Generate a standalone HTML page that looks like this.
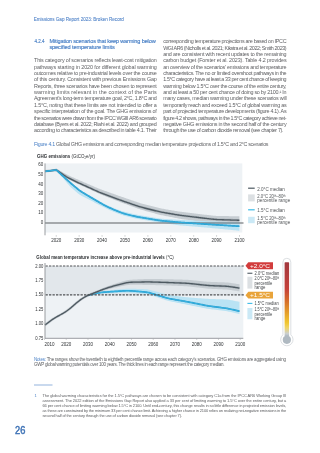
<!DOCTYPE html><html><head><meta charset="utf-8"><style>
html,body{margin:0;padding:0;background:#fff;}
body{width:320px;height:453px;overflow:hidden;position:relative;}
.ch{position:absolute;left:0;top:0;font-family:"Liberation Sans",sans-serif;will-change:transform;}
.hdr{font-size:4.6px;fill:#5a8acb;stroke:#5a8acb;stroke-width:0.1px;}
.h{font-size:5.6px;fill:#4a80c6;stroke:#4a80c6;stroke-width:0.15px;}
.b{font-size:5.4px;fill:#5e5f62;}
.cap{font-size:5.3px;fill:#646568;}
.note{font-size:4.5px;fill:#5f6063;}
.fn{font-size:4.0px;fill:#5f6063;}
.pn{font-size:10.3px;fill:#3f73b6;stroke:#3f73b6;stroke-width:0.45px;}
.bl{fill:#4a80c6;}
.tk{font-size:4.5px;fill:#2f3235;}
.ttl{font-size:4.6px;fill:#2d3033;}
.lg{font-size:4.5px;fill:#55585b;}
.lg2{font-size:4.5px;fill:#45484b;}
.sup{font-size:3px;}
.bd{font-weight:bold;}
.tag{font-size:5.0px;fill:#fff;}
</style></head><body>
<svg class="ch" width="320" height="453" viewBox="0 0 320 453"><rect x="45" y="163.4" width="197.3" height="69.1" fill="#eef2f5"/><path d="M45.00,171.30 L56.40,168.80 L57.40,169.33 L58.40,169.86 L59.40,170.40 L60.40,170.94 L61.40,171.49 L62.40,172.06 L63.40,172.63 L64.40,173.20 L65.40,173.77 L66.40,174.31 L67.40,174.84 L68.40,175.34 L69.40,175.82 L70.40,176.28 L71.40,176.73 L72.40,177.17 L73.40,177.62 L74.40,178.05 L75.40,178.49 L76.40,178.93 L77.40,179.37 L78.40,179.80 L79.40,180.24 L80.40,180.67 L81.40,181.11 L82.40,181.54 L83.40,181.97 L84.40,182.41 L85.40,182.84 L86.40,183.27 L87.40,183.71 L88.40,184.14 L89.40,184.57 L90.40,185.00 L91.40,185.43 L92.40,185.86 L93.40,186.29 L94.40,186.72 L95.40,187.14 L96.40,187.56 L97.40,187.98 L98.40,188.39 L99.40,188.79 L100.40,189.19 L101.40,189.57 L102.40,189.94 L103.40,190.30 L104.40,190.66 L105.40,191.02 L106.40,191.37 L107.40,191.73 L108.40,192.08 L109.40,192.44 L110.40,192.79 L111.40,193.15 L112.40,193.50 L113.40,193.86 L114.40,194.21 L115.40,194.57 L116.40,194.92 L117.40,195.28 L118.40,195.63 L119.40,195.98 L120.40,196.33 L121.40,196.68 L122.40,197.03 L123.40,197.37 L124.40,197.72 L125.40,198.06 L126.40,198.41 L127.40,198.75 L128.40,199.10 L129.40,199.44 L130.40,199.79 L131.40,200.13 L132.40,200.48 L133.40,200.82 L134.40,201.17 L135.40,201.51 L136.40,201.85 L137.40,202.19 L138.40,202.51 L139.40,202.83 L140.40,203.14 L141.40,203.43 L142.40,203.71 L143.40,203.98 L144.40,204.24 L145.40,204.50 L146.40,204.76 L147.40,205.02 L148.40,205.28 L149.40,205.54 L150.40,205.80 L151.40,206.06 L152.40,206.32 L153.40,206.58 L154.40,206.84 L155.40,207.10 L156.40,207.36 L157.40,207.61 L158.40,207.85 L159.40,208.08 L160.40,208.30 L161.40,208.50 L162.40,208.69 L163.40,208.87 L164.40,209.04 L165.40,209.22 L166.40,209.39 L167.40,209.56 L168.40,209.73 L169.40,209.90 L170.40,210.07 L171.40,210.24 L172.40,210.41 L173.40,210.58 L174.40,210.75 L175.40,210.92 L176.40,211.08 L177.40,211.25 L178.40,211.41 L179.40,211.56 L180.40,211.71 L181.40,211.85 L182.40,211.98 L183.40,212.10 L184.40,212.23 L185.40,212.35 L186.40,212.47 L187.40,212.59 L188.40,212.71 L189.40,212.83 L190.40,212.95 L191.40,213.07 L192.40,213.19 L193.40,213.31 L194.40,213.43 L195.40,213.55 L196.40,213.67 L197.40,213.79 L198.40,213.91 L199.40,214.03 L200.40,214.15 L201.40,214.27 L202.40,214.39 L203.40,214.51 L204.40,214.63 L205.40,214.75 L206.40,214.87 L207.40,214.99 L208.40,215.11 L209.40,215.23 L210.40,215.35 L211.40,215.46 L212.40,215.57 L213.40,215.67 L214.40,215.75 L215.40,215.82 L216.40,215.88 L217.40,215.92 L218.40,215.95 L219.40,215.97 L220.40,215.99 L221.40,216.00 L222.40,216.02 L223.40,216.04 L224.40,216.05 L225.40,216.07 L226.40,216.09 L227.40,216.10 L228.40,216.12 L229.40,216.14 L230.40,216.15 L231.40,216.17 L232.40,216.18 L233.40,216.20 L234.40,216.22 L235.40,216.23 L236.40,216.25 L237.40,216.27 L238.40,216.28 L239.40,216.30 L239.40,224.80 L238.40,224.76 L237.40,224.73 L236.40,224.70 L235.40,224.67 L234.40,224.63 L233.40,224.60 L232.40,224.57 L231.40,224.54 L230.40,224.50 L229.40,224.47 L228.40,224.44 L227.40,224.40 L226.40,224.37 L225.40,224.34 L224.40,224.31 L223.40,224.27 L222.40,224.24 L221.40,224.21 L220.40,224.18 L219.40,224.14 L218.40,224.10 L217.40,224.05 L216.40,223.99 L215.40,223.92 L214.40,223.82 L213.40,223.71 L212.40,223.58 L211.40,223.44 L210.40,223.29 L209.40,223.14 L208.40,222.99 L207.40,222.83 L206.40,222.68 L205.40,222.53 L204.40,222.37 L203.40,222.22 L202.40,222.07 L201.40,221.92 L200.40,221.77 L199.40,221.62 L198.40,221.47 L197.40,221.32 L196.40,221.18 L195.40,221.03 L194.40,220.89 L193.40,220.74 L192.40,220.60 L191.40,220.45 L190.40,220.31 L189.40,220.16 L188.40,220.02 L187.40,219.87 L186.40,219.73 L185.40,219.58 L184.40,219.44 L183.40,219.29 L182.40,219.14 L181.40,218.98 L180.40,218.82 L179.40,218.65 L178.40,218.47 L177.40,218.28 L176.40,218.09 L175.40,217.90 L174.40,217.71 L173.40,217.51 L172.40,217.32 L171.40,217.12 L170.40,216.93 L169.40,216.73 L168.40,216.54 L167.40,216.34 L166.40,216.15 L165.40,215.95 L164.40,215.76 L163.40,215.56 L162.40,215.35 L161.40,215.14 L160.40,214.91 L159.40,214.68 L158.40,214.43 L157.40,214.17 L156.40,213.90 L155.40,213.63 L154.40,213.36 L153.40,213.08 L152.40,212.81 L151.40,212.54 L150.40,212.26 L149.40,211.98 L148.40,211.71 L147.40,211.43 L146.40,211.16 L145.40,210.88 L144.40,210.61 L143.40,210.33 L142.40,210.04 L141.40,209.74 L140.40,209.43 L139.40,209.11 L138.40,208.77 L137.40,208.42 L136.40,208.06 L135.40,207.70 L134.40,207.33 L133.40,206.96 L132.40,206.59 L131.40,206.22 L130.40,205.85 L129.40,205.48 L128.40,205.11 L127.40,204.74 L126.40,204.37 L125.40,204.00 L124.40,203.63 L123.40,203.26 L122.40,202.88 L121.40,202.51 L120.40,202.13 L119.40,201.75 L118.40,201.36 L117.40,200.97 L116.40,200.58 L115.40,200.18 L114.40,199.79 L113.40,199.39 L112.40,199.00 L111.40,198.60 L110.40,198.21 L109.40,197.81 L108.40,197.42 L107.40,197.02 L106.40,196.63 L105.40,196.23 L104.40,195.83 L103.40,195.43 L102.40,195.03 L101.40,194.61 L100.40,194.18 L99.40,193.74 L98.40,193.28 L97.40,192.82 L96.40,192.34 L95.40,191.86 L94.40,191.38 L93.40,190.90 L92.40,190.42 L91.40,189.95 L90.40,189.49 L89.40,189.03 L88.40,188.57 L87.40,188.12 L86.40,187.66 L85.40,187.21 L84.40,186.75 L83.40,186.30 L82.40,185.85 L81.40,185.39 L80.40,184.94 L79.40,184.48 L78.40,184.01 L77.40,183.54 L76.40,183.05 L75.40,182.56 L74.40,182.06 L73.40,181.56 L72.40,181.05 L71.40,180.54 L70.40,180.01 L69.40,179.48 L68.40,178.93 L67.40,178.34 L66.40,177.73 L65.40,177.09 L64.40,176.43 L63.40,175.76 L62.40,175.09 L61.40,174.42 L60.40,173.77 L59.40,173.12 L58.40,172.47 L57.40,171.84 L56.40,171.20 L45.00,171.30 Z" fill="#c6cdd2"/><path d="M45.00,171.30 L56.40,168.80 L57.40,169.73 L58.40,170.66 L59.40,171.59 L60.40,172.51 L61.40,173.44 L62.40,174.37 L63.40,175.29 L64.40,176.22 L65.40,177.14 L66.40,178.06 L67.40,178.98 L68.40,179.88 L69.40,180.78 L70.40,181.66 L71.40,182.52 L72.40,183.37 L73.40,184.21 L74.40,185.05 L75.40,185.87 L76.40,186.69 L77.40,187.49 L78.40,188.27 L79.40,189.02 L80.40,189.73 L81.40,190.39 L82.40,191.02 L83.40,191.63 L84.40,192.22 L85.40,192.80 L86.40,193.38 L87.40,193.96 L88.40,194.53 L89.40,195.11 L90.40,195.68 L91.40,196.26 L92.40,196.84 L93.40,197.42 L94.40,198.00 L95.40,198.58 L96.40,199.17 L97.40,199.75 L98.40,200.33 L99.40,200.91 L100.40,201.49 L101.40,202.06 L102.40,202.62 L103.40,203.16 L104.40,203.69 L105.40,204.20 L106.40,204.69 L107.40,205.16 L108.40,205.63 L109.40,206.10 L110.40,206.55 L111.40,207.00 L112.40,207.45 L113.40,207.87 L114.40,208.29 L115.40,208.69 L116.40,209.09 L117.40,209.47 L118.40,209.85 L119.40,210.22 L120.40,210.59 L121.40,210.94 L122.40,211.27 L123.40,211.57 L124.40,211.86 L125.40,212.12 L126.40,212.37 L127.40,212.61 L128.40,212.84 L129.40,213.08 L130.40,213.31 L131.40,213.54 L132.40,213.76 L133.40,213.99 L134.40,214.21 L135.40,214.42 L136.40,214.62 L137.40,214.80 L138.40,214.99 L139.40,215.16 L140.40,215.33 L141.40,215.50 L142.40,215.67 L143.40,215.83 L144.40,216.00 L145.40,216.17 L146.40,216.33 L147.40,216.50 L148.40,216.67 L149.40,216.83 L150.40,217.00 L151.40,217.17 L152.40,217.33 L153.40,217.50 L154.40,217.67 L155.40,217.83 L156.40,217.99 L157.40,218.15 L158.40,218.29 L159.40,218.43 L160.40,218.54 L161.40,218.65 L162.40,218.73 L163.40,218.81 L164.40,218.88 L165.40,218.95 L166.40,219.02 L167.40,219.08 L168.40,219.15 L169.40,219.21 L170.40,219.28 L171.40,219.34 L172.40,219.41 L173.40,219.47 L174.40,219.54 L175.40,219.60 L176.40,219.66 L177.40,219.73 L178.40,219.79 L179.40,219.85 L180.40,219.91 L181.40,219.96 L182.40,220.02 L183.40,220.07 L184.40,220.12 L185.40,220.17 L186.40,220.22 L187.40,220.27 L188.40,220.32 L189.40,220.37 L190.40,220.42 L191.40,220.47 L192.40,220.52 L193.40,220.57 L194.40,220.62 L195.40,220.67 L196.40,220.72 L197.40,220.77 L198.40,220.82 L199.40,220.87 L200.40,220.92 L201.40,220.97 L202.40,221.02 L203.40,221.07 L204.40,221.12 L205.40,221.17 L206.40,221.22 L207.40,221.27 L208.40,221.31 L209.40,221.35 L210.40,221.39 L211.40,221.43 L212.40,221.46 L213.40,221.50 L214.40,221.53 L215.40,221.56 L216.40,221.58 L217.40,221.61 L218.40,221.64 L219.40,221.67 L220.40,221.70 L221.40,221.73 L222.40,221.76 L223.40,221.79 L224.40,221.81 L225.40,221.84 L226.40,221.87 L227.40,221.90 L228.40,221.93 L229.40,221.96 L230.40,221.99 L231.40,222.02 L232.40,222.05 L233.40,222.07 L234.40,222.10 L235.40,222.13 L236.40,222.16 L237.40,222.19 L238.40,222.22 L239.40,222.25 L239.40,230.74 L238.40,230.64 L237.40,230.55 L236.40,230.45 L235.40,230.35 L234.40,230.26 L233.40,230.16 L232.40,230.06 L231.40,229.97 L230.40,229.87 L229.40,229.77 L228.40,229.68 L227.40,229.58 L226.40,229.48 L225.40,229.39 L224.40,229.29 L223.40,229.19 L222.40,229.10 L221.40,229.00 L220.40,228.90 L219.40,228.81 L218.40,228.71 L217.40,228.61 L216.40,228.52 L215.40,228.42 L214.40,228.33 L213.40,228.23 L212.40,228.13 L211.40,228.04 L210.40,227.95 L209.40,227.86 L208.40,227.77 L207.40,227.69 L206.40,227.60 L205.40,227.52 L204.40,227.43 L203.40,227.35 L202.40,227.27 L201.40,227.18 L200.40,227.10 L199.40,227.02 L198.40,226.93 L197.40,226.85 L196.40,226.77 L195.40,226.68 L194.40,226.60 L193.40,226.52 L192.40,226.43 L191.40,226.35 L190.40,226.27 L189.40,226.18 L188.40,226.10 L187.40,226.02 L186.40,225.93 L185.40,225.85 L184.40,225.76 L183.40,225.68 L182.40,225.59 L181.40,225.49 L180.40,225.39 L179.40,225.28 L178.40,225.15 L177.40,225.03 L176.40,224.89 L175.40,224.75 L174.40,224.62 L173.40,224.48 L172.40,224.34 L171.40,224.20 L170.40,224.06 L169.40,223.92 L168.40,223.78 L167.40,223.64 L166.40,223.50 L165.40,223.36 L164.40,223.22 L163.40,223.07 L162.40,222.93 L161.40,222.78 L160.40,222.63 L159.40,222.48 L158.40,222.32 L157.40,222.16 L156.40,222.00 L155.40,221.83 L154.40,221.67 L153.40,221.50 L152.40,221.33 L151.40,221.17 L150.40,221.00 L149.40,220.83 L148.40,220.67 L147.40,220.50 L146.40,220.33 L145.40,220.17 L144.40,220.00 L143.40,219.83 L142.40,219.67 L141.40,219.50 L140.40,219.33 L139.40,219.16 L138.40,218.98 L137.40,218.80 L136.40,218.60 L135.40,218.40 L134.40,218.18 L133.40,217.95 L132.40,217.71 L131.40,217.47 L130.40,217.22 L129.40,216.97 L128.40,216.73 L127.40,216.48 L126.40,216.22 L125.40,215.96 L124.40,215.69 L123.40,215.39 L122.40,215.08 L121.40,214.74 L120.40,214.39 L119.40,214.02 L118.40,213.65 L117.40,213.27 L116.40,212.89 L115.40,212.50 L114.40,212.10 L113.40,211.69 L112.40,211.26 L111.40,210.83 L110.40,210.39 L109.40,209.94 L108.40,209.49 L107.40,209.03 L106.40,208.57 L105.40,208.10 L104.40,207.62 L103.40,207.12 L102.40,206.62 L101.40,206.10 L100.40,205.57 L99.40,205.04 L98.40,204.51 L97.40,203.98 L96.40,203.45 L95.40,202.92 L94.40,202.39 L93.40,201.87 L92.40,201.35 L91.40,200.83 L90.40,200.33 L89.40,199.83 L88.40,199.33 L87.40,198.84 L86.40,198.35 L85.40,197.85 L84.40,197.35 L83.40,196.84 L82.40,196.30 L81.40,195.72 L80.40,195.10 L79.40,194.42 L78.40,193.68 L77.40,192.89 L76.40,192.07 L75.40,191.23 L74.40,190.37 L73.40,189.49 L72.40,188.59 L71.40,187.65 L70.40,186.67 L69.40,185.64 L68.40,184.55 L67.40,183.42 L66.40,182.26 L65.40,181.09 L64.40,179.91 L63.40,178.75 L62.40,177.61 L61.40,176.50 L60.40,175.41 L59.40,174.34 L58.40,173.28 L57.40,172.24 L56.40,171.20 L45.00,171.30 Z" fill="#b9e3f4"/><line x1="45" y1="223" x2="243.5" y2="223" stroke="#5d6064" stroke-width="1.2"/><path d="M45.00,171.30 L56.40,170.00 L57.40,170.67 L58.40,171.34 L59.40,172.02 L60.40,172.69 L61.40,173.38 L62.40,174.06 L63.40,174.74 L64.40,175.42 L65.40,176.08 L66.40,176.72 L67.40,177.32 L68.40,177.89 L69.40,178.43 L70.40,178.94 L71.40,179.45 L72.40,179.94 L73.40,180.43 L74.40,180.92 L75.40,181.40 L76.40,181.87 L77.40,182.34 L78.40,182.81 L79.40,183.26 L80.40,183.71 L81.40,184.16 L82.40,184.61 L83.40,185.06 L84.40,185.51 L85.40,185.95 L86.40,186.40 L87.40,186.85 L88.40,187.29 L89.40,187.74 L90.40,188.19 L91.40,188.64 L92.40,189.10 L93.40,189.55 L94.40,190.01 L95.40,190.47 L96.40,190.93 L97.40,191.38 L98.40,191.82 L99.40,192.26 L100.40,192.67 L101.40,193.08 L102.40,193.47 L103.40,193.85 L104.40,194.22 L105.40,194.60 L106.40,194.97 L107.40,195.34 L108.40,195.71 L109.40,196.08 L110.40,196.45 L111.40,196.82 L112.40,197.19 L113.40,197.56 L114.40,197.93 L115.40,198.30 L116.40,198.67 L117.40,199.03 L118.40,199.40 L119.40,199.76 L120.40,200.12 L121.40,200.47 L122.40,200.82 L123.40,201.17 L124.40,201.52 L125.40,201.86 L126.40,202.21 L127.40,202.55 L128.40,202.90 L129.40,203.24 L130.40,203.59 L131.40,203.93 L132.40,204.28 L133.40,204.62 L134.40,204.97 L135.40,205.31 L136.40,205.65 L137.40,205.99 L138.40,206.31 L139.40,206.62 L140.40,206.92 L141.40,207.21 L142.40,207.48 L143.40,207.74 L144.40,208.00 L145.40,208.25 L146.40,208.50 L147.40,208.75 L148.40,209.00 L149.40,209.25 L150.40,209.50 L151.40,209.75 L152.40,210.00 L153.40,210.25 L154.40,210.50 L155.40,210.75 L156.40,210.99 L157.40,211.23 L158.40,211.47 L159.40,211.69 L160.40,211.90 L161.40,212.10 L162.40,212.29 L163.40,212.47 L164.40,212.65 L165.40,212.82 L166.40,212.99 L167.40,213.16 L168.40,213.33 L169.40,213.50 L170.40,213.67 L171.40,213.84 L172.40,214.01 L173.40,214.18 L174.40,214.35 L175.40,214.52 L176.40,214.68 L177.40,214.85 L178.40,215.01 L179.40,215.16 L180.40,215.31 L181.40,215.45 L182.40,215.58 L183.40,215.70 L184.40,215.83 L185.40,215.95 L186.40,216.07 L187.40,216.19 L188.40,216.31 L189.40,216.43 L190.40,216.55 L191.40,216.67 L192.40,216.79 L193.40,216.91 L194.40,217.03 L195.40,217.15 L196.40,217.27 L197.40,217.39 L198.40,217.51 L199.40,217.63 L200.40,217.75 L201.40,217.87 L202.40,217.99 L203.40,218.11 L204.40,218.23 L205.40,218.35 L206.40,218.47 L207.40,218.59 L208.40,218.71 L209.40,218.83 L210.40,218.95 L211.40,219.06 L212.40,219.17 L213.40,219.27 L214.40,219.37 L215.40,219.44 L216.40,219.51 L217.40,219.56 L218.40,219.60 L219.40,219.64 L220.40,219.68 L221.40,219.71 L222.40,219.74 L223.40,219.77 L224.40,219.81 L225.40,219.84 L226.40,219.87 L227.40,219.90 L228.40,219.94 L229.40,219.97 L230.40,220.00 L231.40,220.04 L232.40,220.07 L233.40,220.10 L234.40,220.13 L235.40,220.17 L236.40,220.20 L237.40,220.23 L238.40,220.26 L239.40,220.30" fill="none" stroke="#8d989f" stroke-opacity="0.45" stroke-width="2.4" stroke-linejoin="round"/><path d="M45.00,171.30 L56.40,170.00 L57.40,170.67 L58.40,171.34 L59.40,172.02 L60.40,172.69 L61.40,173.38 L62.40,174.06 L63.40,174.74 L64.40,175.42 L65.40,176.08 L66.40,176.72 L67.40,177.32 L68.40,177.89 L69.40,178.43 L70.40,178.94 L71.40,179.45 L72.40,179.94 L73.40,180.43 L74.40,180.92 L75.40,181.40 L76.40,181.87 L77.40,182.34 L78.40,182.81 L79.40,183.26 L80.40,183.71 L81.40,184.16 L82.40,184.61 L83.40,185.06 L84.40,185.51 L85.40,185.95 L86.40,186.40 L87.40,186.85 L88.40,187.29 L89.40,187.74 L90.40,188.19 L91.40,188.64 L92.40,189.10 L93.40,189.55 L94.40,190.01 L95.40,190.47 L96.40,190.93 L97.40,191.38 L98.40,191.82 L99.40,192.26 L100.40,192.67 L101.40,193.08 L102.40,193.47 L103.40,193.85 L104.40,194.22 L105.40,194.60 L106.40,194.97 L107.40,195.34 L108.40,195.71 L109.40,196.08 L110.40,196.45 L111.40,196.82 L112.40,197.19 L113.40,197.56 L114.40,197.93 L115.40,198.30 L116.40,198.67 L117.40,199.03 L118.40,199.40 L119.40,199.76 L120.40,200.12 L121.40,200.47 L122.40,200.82 L123.40,201.17 L124.40,201.52 L125.40,201.86 L126.40,202.21 L127.40,202.55 L128.40,202.90 L129.40,203.24 L130.40,203.59 L131.40,203.93 L132.40,204.28 L133.40,204.62 L134.40,204.97 L135.40,205.31 L136.40,205.65 L137.40,205.99 L138.40,206.31 L139.40,206.62 L140.40,206.92 L141.40,207.21 L142.40,207.48 L143.40,207.74 L144.40,208.00 L145.40,208.25 L146.40,208.50 L147.40,208.75 L148.40,209.00 L149.40,209.25 L150.40,209.50 L151.40,209.75 L152.40,210.00 L153.40,210.25 L154.40,210.50 L155.40,210.75 L156.40,210.99 L157.40,211.23 L158.40,211.47 L159.40,211.69 L160.40,211.90 L161.40,212.10 L162.40,212.29 L163.40,212.47 L164.40,212.65 L165.40,212.82 L166.40,212.99 L167.40,213.16 L168.40,213.33 L169.40,213.50 L170.40,213.67 L171.40,213.84 L172.40,214.01 L173.40,214.18 L174.40,214.35 L175.40,214.52 L176.40,214.68 L177.40,214.85 L178.40,215.01 L179.40,215.16 L180.40,215.31 L181.40,215.45 L182.40,215.58 L183.40,215.70 L184.40,215.83 L185.40,215.95 L186.40,216.07 L187.40,216.19 L188.40,216.31 L189.40,216.43 L190.40,216.55 L191.40,216.67 L192.40,216.79 L193.40,216.91 L194.40,217.03 L195.40,217.15 L196.40,217.27 L197.40,217.39 L198.40,217.51 L199.40,217.63 L200.40,217.75 L201.40,217.87 L202.40,217.99 L203.40,218.11 L204.40,218.23 L205.40,218.35 L206.40,218.47 L207.40,218.59 L208.40,218.71 L209.40,218.83 L210.40,218.95 L211.40,219.06 L212.40,219.17 L213.40,219.27 L214.40,219.37 L215.40,219.44 L216.40,219.51 L217.40,219.56 L218.40,219.60 L219.40,219.64 L220.40,219.68 L221.40,219.71 L222.40,219.74 L223.40,219.77 L224.40,219.81 L225.40,219.84 L226.40,219.87 L227.40,219.90 L228.40,219.94 L229.40,219.97 L230.40,220.00 L231.40,220.04 L232.40,220.07 L233.40,220.10 L234.40,220.13 L235.40,220.17 L236.40,220.20 L237.40,220.23 L238.40,220.26 L239.40,220.30" fill="none" stroke="#4d5961" stroke-width="1.3" stroke-linejoin="round"/><path d="M45.00,171.30 L56.40,170.00 L57.40,170.93 L58.40,171.86 L59.40,172.79 L60.40,173.71 L61.40,174.64 L62.40,175.57 L63.40,176.49 L64.40,177.42 L65.40,178.34 L66.40,179.26 L67.40,180.18 L68.40,181.09 L69.40,181.98 L70.40,182.87 L71.40,183.74 L72.40,184.60 L73.40,185.45 L74.40,186.29 L75.40,187.13 L76.40,187.96 L77.40,188.77 L78.40,189.56 L79.40,190.32 L80.40,191.04 L81.40,191.72 L82.40,192.37 L83.40,192.99 L84.40,193.59 L85.40,194.19 L86.40,194.79 L87.40,195.38 L88.40,195.97 L89.40,196.56 L90.40,197.15 L91.40,197.74 L92.40,198.33 L93.40,198.91 L94.40,199.50 L95.40,200.08 L96.40,200.67 L97.40,201.25 L98.40,201.83 L99.40,202.41 L100.40,202.99 L101.40,203.56 L102.40,204.12 L103.40,204.67 L104.40,205.20 L105.40,205.71 L106.40,206.21 L107.40,206.70 L108.40,207.18 L109.40,207.65 L110.40,208.12 L111.40,208.59 L112.40,209.04 L113.40,209.48 L114.40,209.92 L115.40,210.34 L116.40,210.75 L117.40,211.15 L118.40,211.55 L119.40,211.95 L120.40,212.33 L121.40,212.70 L122.40,213.05 L123.40,213.37 L124.40,213.68 L125.40,213.96 L126.40,214.22 L127.40,214.48 L128.40,214.73 L129.40,214.97 L130.40,215.22 L131.40,215.47 L132.40,215.71 L133.40,215.95 L134.40,216.18 L135.40,216.40 L136.40,216.60 L137.40,216.80 L138.40,216.98 L139.40,217.16 L140.40,217.33 L141.40,217.50 L142.40,217.67 L143.40,217.83 L144.40,218.00 L145.40,218.17 L146.40,218.33 L147.40,218.50 L148.40,218.67 L149.40,218.83 L150.40,219.00 L151.40,219.17 L152.40,219.33 L153.40,219.50 L154.40,219.67 L155.40,219.83 L156.40,219.99 L157.40,220.15 L158.40,220.30 L159.40,220.44 L160.40,220.57 L161.40,220.69 L162.40,220.80 L163.40,220.90 L164.40,220.99 L165.40,221.09 L166.40,221.18 L167.40,221.27 L168.40,221.36 L169.40,221.45 L170.40,221.54 L171.40,221.63 L172.40,221.72 L173.40,221.81 L174.40,221.90 L175.40,221.99 L176.40,222.07 L177.40,222.16 L178.40,222.25 L179.40,222.33 L180.40,222.41 L181.40,222.48 L182.40,222.55 L183.40,222.62 L184.40,222.69 L185.40,222.76 L186.40,222.83 L187.40,222.89 L188.40,222.96 L189.40,223.03 L190.40,223.09 L191.40,223.16 L192.40,223.23 L193.40,223.29 L194.40,223.36 L195.40,223.43 L196.40,223.49 L197.40,223.56 L198.40,223.63 L199.40,223.69 L200.40,223.76 L201.40,223.83 L202.40,223.89 L203.40,223.96 L204.40,224.03 L205.40,224.09 L206.40,224.16 L207.40,224.23 L208.40,224.29 L209.40,224.36 L210.40,224.42 L211.40,224.49 L212.40,224.55 L213.40,224.61 L214.40,224.68 L215.40,224.74 L216.40,224.80 L217.40,224.86 L218.40,224.93 L219.40,224.99 L220.40,225.05 L221.40,225.11 L222.40,225.18 L223.40,225.24 L224.40,225.30 L225.40,225.37 L226.40,225.43 L227.40,225.49 L228.40,225.55 L229.40,225.62 L230.40,225.68 L231.40,225.74 L232.40,225.80 L233.40,225.87 L234.40,225.93 L235.40,225.99 L236.40,226.06 L237.40,226.12 L238.40,226.18 L239.40,226.24" fill="none" stroke="#2496c8" stroke-width="1.7" stroke-linejoin="round"/><path d="M45.00,171.30 L56.40,170.00 L57.40,170.93 L58.40,171.86 L59.40,172.79 L60.40,173.71 L61.40,174.64 L62.40,175.57 L63.40,176.49 L64.40,177.42 L65.40,178.34 L66.40,179.26 L67.40,180.18 L68.40,181.09 L69.40,181.98 L70.40,182.87 L71.40,183.74 L72.40,184.60 L73.40,185.45 L74.40,186.29 L75.40,187.13 L76.40,187.96 L77.40,188.77 L78.40,189.56 L79.40,190.32 L80.40,191.04 L81.40,191.72 L82.40,192.37 L83.40,192.99 L84.40,193.59 L85.40,194.19 L86.40,194.79 L87.40,195.38 L88.40,195.97 L89.40,196.56 L90.40,197.15 L91.40,197.74 L92.40,198.33 L93.40,198.91 L94.40,199.50 L95.40,200.08 L96.40,200.67 L97.40,201.25 L98.40,201.83 L99.40,202.41 L100.40,202.99 L101.40,203.56 L102.40,204.12 L103.40,204.67 L104.40,205.20 L105.40,205.71 L106.40,206.21 L107.40,206.70 L108.40,207.18 L109.40,207.65 L110.40,208.12 L111.40,208.59 L112.40,209.04 L113.40,209.48 L114.40,209.92 L115.40,210.34 L116.40,210.75 L117.40,211.15 L118.40,211.55 L119.40,211.95 L120.40,212.33 L121.40,212.70 L122.40,213.05 L123.40,213.37 L124.40,213.68 L125.40,213.96 L126.40,214.22 L127.40,214.48 L128.40,214.73 L129.40,214.97 L130.40,215.22 L131.40,215.47 L132.40,215.71 L133.40,215.95 L134.40,216.18 L135.40,216.40 L136.40,216.60 L137.40,216.80 L138.40,216.98 L139.40,217.16 L140.40,217.33 L141.40,217.50 L142.40,217.67 L143.40,217.83 L144.40,218.00 L145.40,218.17 L146.40,218.33 L147.40,218.50 L148.40,218.67 L149.40,218.83 L150.40,219.00 L151.40,219.17 L152.40,219.33 L153.40,219.50 L154.40,219.67 L155.40,219.83 L156.40,219.99 L157.40,220.15 L158.40,220.30 L159.40,220.44 L160.40,220.57 L161.40,220.69 L162.40,220.80 L163.40,220.90 L164.40,220.99 L165.40,221.09 L166.40,221.18 L167.40,221.27 L168.40,221.36 L169.40,221.45 L170.40,221.54 L171.40,221.63 L172.40,221.72 L173.40,221.81 L174.40,221.90 L175.40,221.99 L176.40,222.07 L177.40,222.16 L178.40,222.25 L179.40,222.33 L180.40,222.41 L181.40,222.48 L182.40,222.55 L183.40,222.62 L184.40,222.69 L185.40,222.76 L186.40,222.83 L187.40,222.89 L188.40,222.96 L189.40,223.03 L190.40,223.09 L191.40,223.16 L192.40,223.23 L193.40,223.29 L194.40,223.36 L195.40,223.43 L196.40,223.49 L197.40,223.56 L198.40,223.63 L199.40,223.69 L200.40,223.76 L201.40,223.83 L202.40,223.89 L203.40,223.96 L204.40,224.03 L205.40,224.09 L206.40,224.16 L207.40,224.23 L208.40,224.29 L209.40,224.36 L210.40,224.42 L211.40,224.49 L212.40,224.55 L213.40,224.61 L214.40,224.68 L215.40,224.74 L216.40,224.80 L217.40,224.86 L218.40,224.93 L219.40,224.99 L220.40,225.05 L221.40,225.11 L222.40,225.18 L223.40,225.24 L224.40,225.30 L225.40,225.37 L226.40,225.43 L227.40,225.49 L228.40,225.55 L229.40,225.62 L230.40,225.68 L231.40,225.74 L232.40,225.80 L233.40,225.87 L234.40,225.93 L235.40,225.99 L236.40,226.06 L237.40,226.12 L238.40,226.18 L239.40,226.24" fill="none" stroke="#3bbbe8" stroke-width="0.8" stroke-linejoin="round"/><line x1="45" y1="163.4" x2="45" y2="235.3" stroke="#8f9296" stroke-width="0.9"/><text x="43.2" y="166" class="tk" text-anchor="end">60</text><text x="43.2" y="176" class="tk" text-anchor="end">50</text><text x="43.2" y="186" class="tk" text-anchor="end">40</text><text x="43.2" y="195" class="tk" text-anchor="end">30</text><text x="43.2" y="205" class="tk" text-anchor="end">20</text><text x="43.2" y="214" class="tk" text-anchor="end">10</text><text x="43.2" y="224" class="tk" text-anchor="end">0</text><line x1="56.25" y1="235" x2="56.25" y2="236.8" stroke="#a5a8ab" stroke-width="0.5"/><text x="56.25" y="242" class="tk" text-anchor="middle">2020</text><line x1="79.16" y1="235" x2="79.16" y2="236.8" stroke="#a5a8ab" stroke-width="0.5"/><text x="79.16" y="242" class="tk" text-anchor="middle">2030</text><line x1="102.06" y1="235" x2="102.06" y2="236.8" stroke="#a5a8ab" stroke-width="0.5"/><text x="102.06" y="242" class="tk" text-anchor="middle">2040</text><line x1="124.97" y1="235" x2="124.97" y2="236.8" stroke="#a5a8ab" stroke-width="0.5"/><text x="124.97" y="242" class="tk" text-anchor="middle">2050</text><line x1="147.88" y1="235" x2="147.88" y2="236.8" stroke="#a5a8ab" stroke-width="0.5"/><text x="147.88" y="242" class="tk" text-anchor="middle">2060</text><line x1="170.78" y1="235" x2="170.78" y2="236.8" stroke="#a5a8ab" stroke-width="0.5"/><text x="170.78" y="242" class="tk" text-anchor="middle">2070</text><line x1="193.69" y1="235" x2="193.69" y2="236.8" stroke="#a5a8ab" stroke-width="0.5"/><text x="193.69" y="242" class="tk" text-anchor="middle">2080</text><line x1="216.59" y1="235" x2="216.59" y2="236.8" stroke="#a5a8ab" stroke-width="0.5"/><text x="216.59" y="242" class="tk" text-anchor="middle">2090</text><line x1="239.50" y1="235" x2="239.50" y2="236.8" stroke="#a5a8ab" stroke-width="0.5"/><text x="239.50" y="242" class="tk" text-anchor="middle">2100</text><text x="37" y="158.3" class="ttl" textLength="58" lengthAdjust="spacingAndGlyphs"><tspan class="bd">GHG emissions</tspan> (GtCO<tspan font-size="2.8" dy="0.9">2</tspan><tspan dy="-0.9">e/yr)</tspan></text><line x1="248.1" y1="188.2" x2="254.7" y2="188.2" stroke="#4d5961" stroke-width="1.2"/><text x="257.3" y="191" class="lg" textLength="27.55" lengthAdjust="spacingAndGlyphs">2.0°C median</text><rect x="248.1" y="194.4" width="6.6" height="7" fill="#dce0e3"/><text x="257.3" y="198" class="lg" textLength="28.40" lengthAdjust="spacingAndGlyphs">2.0°C 20<tspan class="sup" dy="-1">th</tspan><tspan dy="1">–80</tspan><tspan class="sup" dy="-1">th</tspan></text><text x="257.3" y="202" class="lg" textLength="32.90" lengthAdjust="spacingAndGlyphs">percentile range</text><line x1="248.1" y1="209.8" x2="254.7" y2="209.8" stroke="#3bbbe8" stroke-width="1.2"/><text x="257.3" y="212" class="lg" textLength="27.55" lengthAdjust="spacingAndGlyphs">1.5°C median</text><rect x="248.1" y="216.8" width="6.6" height="6.4" fill="#cbe9f6"/><text x="257.3" y="220" class="lg" textLength="28.40" lengthAdjust="spacingAndGlyphs">1.5°C 20<tspan class="sup" dy="-1">th</tspan><tspan dy="1">–80</tspan><tspan class="sup" dy="-1">th</tspan></text><text x="257.3" y="224" class="lg" textLength="32.90" lengthAdjust="spacingAndGlyphs">percentile range</text><rect x="45" y="266.0" width="198.3" height="28.899999999999977" fill="#e2e7eb"/><rect x="45" y="294.9" width="198.3" height="43.400000000000034" fill="#eef2f5"/><path d="M88.00,295.30 L89.00,294.83 L90.00,294.35 L91.00,293.87 L92.00,293.40 L93.00,292.93 L94.00,292.45 L95.00,291.98 L96.00,291.50 L97.00,291.03 L98.00,290.56 L99.00,290.10 L100.00,289.64 L101.00,289.18 L102.00,288.74 L103.00,288.29 L104.00,287.86 L105.00,287.43 L106.00,287.00 L107.00,286.59 L108.00,286.20 L109.00,285.82 L110.00,285.45 L111.00,285.10 L112.00,284.76 L113.00,284.42 L114.00,284.09 L115.00,283.76 L116.00,283.44 L117.00,283.12 L118.00,282.81 L119.00,282.51 L120.00,282.20 L121.00,281.90 L122.00,281.60 L123.00,281.30 L124.00,281.01 L125.00,280.73 L126.00,280.47 L127.00,280.24 L128.00,280.05 L129.00,279.90 L130.00,279.78 L131.00,279.70 L132.00,279.63 L133.00,279.58 L134.00,279.53 L135.00,279.49 L136.00,279.44 L137.00,279.39 L138.00,279.35 L139.00,279.30 L140.00,279.26 L141.00,279.22 L142.00,279.17 L143.00,279.13 L144.00,279.08 L145.00,279.04 L146.00,279.01 L147.00,278.98 L148.00,278.96 L149.00,278.95 L150.00,278.95 L151.00,278.95 L152.00,278.96 L153.00,278.98 L154.00,278.99 L155.00,279.01 L156.00,279.02 L157.00,279.03 L158.00,279.05 L159.00,279.06 L160.00,279.08 L161.00,279.10 L162.00,279.11 L163.00,279.13 L164.00,279.14 L165.00,279.16 L166.00,279.17 L167.00,279.19 L168.00,279.21 L169.00,279.24 L170.00,279.26 L171.00,279.29 L172.00,279.32 L173.00,279.35 L174.00,279.38 L175.00,279.41 L176.00,279.44 L177.00,279.47 L178.00,279.50 L179.00,279.53 L180.00,279.56 L181.00,279.59 L182.00,279.62 L183.00,279.65 L184.00,279.68 L185.00,279.72 L186.00,279.76 L187.00,279.81 L188.00,279.87 L189.00,279.94 L190.00,280.02 L191.00,280.11 L192.00,280.20 L193.00,280.30 L194.00,280.40 L195.00,280.50 L196.00,280.60 L197.00,280.70 L198.00,280.80 L199.00,280.90 L200.00,281.00 L201.00,281.10 L202.00,281.20 L203.00,281.30 L204.00,281.40 L205.00,281.49 L206.00,281.58 L207.00,281.66 L208.00,281.74 L209.00,281.80 L210.00,281.85 L211.00,281.90 L212.00,281.94 L213.00,281.97 L214.00,282.01 L215.00,282.04 L216.00,282.08 L217.00,282.12 L218.00,282.15 L219.00,282.19 L220.00,282.22 L221.00,282.26 L222.00,282.29 L223.00,282.33 L224.00,282.37 L225.00,282.41 L226.00,282.47 L227.00,282.53 L228.00,282.62 L229.00,282.73 L230.00,282.85 L231.00,282.99 L232.00,283.13 L233.00,283.28 L234.00,283.44 L235.00,283.60 L236.00,283.75 L237.00,283.91 L238.00,284.07 L239.00,284.22 L239.50,284.30 L239.50,291.40 L239.00,291.32 L238.00,291.17 L237.00,291.01 L236.00,290.85 L235.00,290.70 L234.00,290.54 L233.00,290.38 L232.00,290.23 L231.00,290.08 L230.00,289.95 L229.00,289.82 L228.00,289.71 L227.00,289.62 L226.00,289.54 L225.00,289.48 L224.00,289.43 L223.00,289.38 L222.00,289.33 L221.00,289.29 L220.00,289.24 L219.00,289.19 L218.00,289.15 L217.00,289.11 L216.00,289.06 L215.00,289.01 L214.00,288.97 L213.00,288.92 L212.00,288.88 L211.00,288.82 L210.00,288.77 L209.00,288.70 L208.00,288.63 L207.00,288.54 L206.00,288.44 L205.00,288.33 L204.00,288.22 L203.00,288.10 L202.00,287.98 L201.00,287.86 L200.00,287.74 L199.00,287.62 L198.00,287.50 L197.00,287.38 L196.00,287.26 L195.00,287.14 L194.00,287.02 L193.00,286.90 L192.00,286.78 L191.00,286.67 L190.00,286.56 L189.00,286.47 L188.00,286.38 L187.00,286.31 L186.00,286.24 L185.00,286.19 L184.00,286.14 L183.00,286.10 L182.00,286.06 L181.00,286.02 L180.00,285.98 L179.00,285.94 L178.00,285.90 L177.00,285.86 L176.00,285.82 L175.00,285.78 L174.00,285.74 L173.00,285.70 L172.00,285.66 L171.00,285.62 L170.00,285.58 L169.00,285.55 L168.00,285.51 L167.00,285.48 L166.00,285.44 L165.00,285.41 L164.00,285.38 L163.00,285.35 L162.00,285.32 L161.00,285.29 L160.00,285.26 L159.00,285.23 L158.00,285.20 L157.00,285.17 L156.00,285.14 L155.00,285.11 L154.00,285.08 L153.00,285.05 L152.00,285.02 L151.00,284.99 L150.00,284.97 L149.00,284.94 L148.00,284.92 L147.00,284.91 L146.00,284.90 L145.00,284.89 L144.00,284.88 L143.00,284.88 L142.00,284.87 L141.00,284.87 L140.00,284.86 L139.00,284.86 L138.00,284.85 L137.00,284.85 L136.00,284.84 L135.00,284.84 L134.00,284.83 L133.00,284.83 L132.00,284.83 L131.00,284.84 L130.00,284.87 L129.00,284.93 L128.00,285.02 L127.00,285.14 L126.00,285.30 L125.00,285.48 L124.00,285.68 L123.00,285.89 L122.00,286.10 L121.00,286.32 L120.00,286.53 L119.00,286.75 L118.00,286.97 L117.00,287.18 L116.00,287.40 L115.00,287.61 L114.00,287.82 L113.00,288.04 L112.00,288.26 L111.00,288.48 L110.00,288.70 L109.00,288.94 L108.00,289.20 L107.00,289.47 L106.00,289.75 L105.00,290.05 L104.00,290.36 L103.00,290.66 L102.00,290.97 L101.00,291.29 L100.00,291.60 L99.00,291.91 L98.00,292.22 L97.00,292.52 L96.00,292.83 L95.00,293.14 L94.00,293.45 L93.00,293.76 L92.00,294.07 L91.00,294.38 L90.00,294.68 L89.00,294.99 L88.00,295.30 Z" fill="#c6cdd2"/><path d="M88.00,295.30 L89.00,294.98 L90.00,294.67 L91.00,294.35 L92.00,294.03 L93.00,293.72 L94.00,293.40 L95.00,293.09 L96.00,292.78 L97.00,292.47 L98.00,292.19 L99.00,291.92 L100.00,291.68 L101.00,291.46 L102.00,291.28 L103.00,291.11 L104.00,290.96 L105.00,290.82 L106.00,290.69 L107.00,290.56 L108.00,290.45 L109.00,290.34 L110.00,290.23 L111.00,290.14 L112.00,290.04 L113.00,289.95 L114.00,289.86 L115.00,289.77 L116.00,289.68 L117.00,289.59 L118.00,289.50 L119.00,289.41 L120.00,289.32 L121.00,289.23 L122.00,289.14 L123.00,289.05 L124.00,288.97 L125.00,288.89 L126.00,288.82 L127.00,288.76 L128.00,288.72 L129.00,288.70 L130.00,288.70 L131.00,288.71 L132.00,288.74 L133.00,288.76 L134.00,288.80 L135.00,288.83 L136.00,288.86 L137.00,288.89 L138.00,288.93 L139.00,288.96 L140.00,288.99 L141.00,289.02 L142.00,289.06 L143.00,289.09 L144.00,289.13 L145.00,289.19 L146.00,289.26 L147.00,289.36 L148.00,289.50 L149.00,289.67 L150.00,289.89 L151.00,290.13 L152.00,290.39 L153.00,290.67 L154.00,290.95 L155.00,291.23 L156.00,291.51 L157.00,291.79 L158.00,292.08 L159.00,292.36 L160.00,292.64 L161.00,292.92 L162.00,293.20 L163.00,293.48 L164.00,293.76 L165.00,294.03 L166.00,294.29 L167.00,294.53 L168.00,294.74 L169.00,294.94 L170.00,295.10 L171.00,295.25 L172.00,295.39 L173.00,295.52 L174.00,295.65 L175.00,295.77 L176.00,295.90 L177.00,296.02 L178.00,296.15 L179.00,296.28 L180.00,296.40 L181.00,296.52 L182.00,296.65 L183.00,296.77 L184.00,296.90 L185.00,297.02 L186.00,297.14 L187.00,297.25 L188.00,297.35 L189.00,297.45 L190.00,297.54 L191.00,297.62 L192.00,297.70 L193.00,297.77 L194.00,297.85 L195.00,297.92 L196.00,298.00 L197.00,298.07 L198.00,298.15 L199.00,298.22 L200.00,298.30 L201.00,298.37 L202.00,298.45 L203.00,298.52 L204.00,298.60 L205.00,298.67 L206.00,298.74 L207.00,298.80 L208.00,298.86 L209.00,298.90 L210.00,298.95 L211.00,298.98 L212.00,299.02 L213.00,299.05 L214.00,299.08 L215.00,299.11 L216.00,299.14 L217.00,299.17 L218.00,299.20 L219.00,299.23 L220.00,299.26 L221.00,299.29 L222.00,299.32 L223.00,299.35 L224.00,299.39 L225.00,299.43 L226.00,299.49 L227.00,299.57 L228.00,299.67 L229.00,299.80 L230.00,299.96 L231.00,300.14 L232.00,300.33 L233.00,300.52 L234.00,300.73 L235.00,300.93 L236.00,301.13 L237.00,301.34 L238.00,301.54 L239.00,301.75 L239.50,301.85 L239.50,314.25 L239.00,314.12 L238.00,313.87 L237.00,313.61 L236.00,313.35 L235.00,313.10 L234.00,312.84 L233.00,312.59 L232.00,312.33 L231.00,312.09 L230.00,311.85 L229.00,311.63 L228.00,311.43 L227.00,311.26 L226.00,311.10 L225.00,310.96 L224.00,310.83 L223.00,310.70 L222.00,310.58 L221.00,310.46 L220.00,310.34 L219.00,310.22 L218.00,310.10 L217.00,309.98 L216.00,309.86 L215.00,309.74 L214.00,309.62 L213.00,309.50 L212.00,309.38 L211.00,309.25 L210.00,309.12 L209.00,308.97 L208.00,308.82 L207.00,308.65 L206.00,308.48 L205.00,308.29 L204.00,308.10 L203.00,307.90 L202.00,307.70 L201.00,307.50 L200.00,307.30 L199.00,307.10 L198.00,306.90 L197.00,306.70 L196.00,306.50 L195.00,306.30 L194.00,306.10 L193.00,305.90 L192.00,305.70 L191.00,305.50 L190.00,305.30 L189.00,305.10 L188.00,304.90 L187.00,304.70 L186.00,304.50 L185.00,304.30 L184.00,304.10 L183.00,303.90 L182.00,303.70 L181.00,303.50 L180.00,303.30 L179.00,303.10 L178.00,302.90 L177.00,302.70 L176.00,302.50 L175.00,302.30 L174.00,302.10 L173.00,301.90 L172.00,301.69 L171.00,301.48 L170.00,301.26 L169.00,301.02 L168.00,300.77 L167.00,300.49 L166.00,300.20 L165.00,299.88 L164.00,299.56 L163.00,299.24 L162.00,298.90 L161.00,298.57 L160.00,298.24 L159.00,297.91 L158.00,297.58 L157.00,297.24 L156.00,296.91 L155.00,296.58 L154.00,296.25 L153.00,295.92 L152.00,295.59 L151.00,295.28 L150.00,294.99 L149.00,294.72 L148.00,294.50 L147.00,294.31 L146.00,294.16 L145.00,294.04 L144.00,293.93 L143.00,293.84 L142.00,293.76 L141.00,293.67 L140.00,293.59 L139.00,293.51 L138.00,293.43 L137.00,293.34 L136.00,293.26 L135.00,293.18 L134.00,293.10 L133.00,293.01 L132.00,292.94 L131.00,292.86 L130.00,292.80 L129.00,292.75 L128.00,292.72 L127.00,292.71 L126.00,292.72 L125.00,292.74 L124.00,292.77 L123.00,292.80 L122.00,292.84 L121.00,292.88 L120.00,292.92 L119.00,292.96 L118.00,293.00 L117.00,293.04 L116.00,293.08 L115.00,293.12 L114.00,293.16 L113.00,293.20 L112.00,293.24 L111.00,293.28 L110.00,293.31 L109.00,293.34 L108.00,293.37 L107.00,293.40 L106.00,293.42 L105.00,293.44 L104.00,293.46 L103.00,293.48 L102.00,293.52 L101.00,293.57 L100.00,293.64 L99.00,293.73 L98.00,293.84 L97.00,293.97 L96.00,294.11 L95.00,294.25 L94.00,294.40 L93.00,294.55 L92.00,294.70 L91.00,294.85 L90.00,295.00 L89.00,295.15 L88.00,295.30 Z" fill="#b9e3f4"/><path d="M88.00,295.30 L89.00,295.07 L90.00,294.83 L91.00,294.60 L92.00,294.37 L93.00,294.13 L94.00,293.90 L95.00,293.67 L96.00,293.44 L97.00,293.22 L98.00,293.01 L99.00,292.82 L100.00,292.66 L101.00,292.51 L102.00,292.40 L103.00,292.30 L104.00,292.21 L105.00,292.13 L106.00,292.05 L107.00,291.98 L108.00,291.91 L109.00,291.84 L110.00,291.77 L111.00,291.71 L112.00,291.64 L113.00,291.58 L114.00,291.51 L115.00,291.45 L116.00,291.38 L117.00,291.32 L118.00,291.25 L119.00,291.19 L120.00,291.12 L121.00,291.06 L122.00,290.99 L123.00,290.93 L124.00,290.87 L125.00,290.81 L126.00,290.77 L127.00,290.75 L128.00,290.75 L129.00,290.77 L130.00,290.81 L131.00,290.87 L132.00,290.94 L133.00,291.02 L134.00,291.10 L135.00,291.18 L136.00,291.26 L137.00,291.34 L138.00,291.43 L139.00,291.51 L140.00,291.59 L141.00,291.67 L142.00,291.76 L143.00,291.84 L144.00,291.93 L145.00,292.03 L146.00,292.15 L147.00,292.30 L148.00,292.47 L149.00,292.69 L150.00,292.93 L151.00,293.20 L152.00,293.49 L153.00,293.79 L154.00,294.10 L155.00,294.40 L156.00,294.71 L157.00,295.02 L158.00,295.33 L159.00,295.63 L160.00,295.94 L161.00,296.25 L162.00,296.55 L163.00,296.86 L164.00,297.16 L165.00,297.46 L166.00,297.75 L167.00,298.02 L168.00,298.27 L169.00,298.50 L170.00,298.71 L171.00,298.91 L172.00,299.09 L173.00,299.27 L174.00,299.45 L175.00,299.62 L176.00,299.80 L177.00,299.97 L178.00,300.15 L179.00,300.32 L180.00,300.50 L181.00,300.68 L182.00,300.85 L183.00,301.03 L184.00,301.20 L185.00,301.38 L186.00,301.56 L187.00,301.74 L188.00,301.92 L189.00,302.11 L190.00,302.31 L191.00,302.50 L192.00,302.70 L193.00,302.90 L194.00,303.10 L195.00,303.30 L196.00,303.50 L197.00,303.70 L198.00,303.90 L199.00,304.10 L200.00,304.30 L201.00,304.50 L202.00,304.70 L203.00,304.90 L204.00,305.10 L205.00,305.29 L206.00,305.48 L207.00,305.66 L208.00,305.83 L209.00,305.99 L210.00,306.14 L211.00,306.28 L212.00,306.42 L213.00,306.55 L214.00,306.68 L215.00,306.81 L216.00,306.94 L217.00,307.07 L218.00,307.20 L219.00,307.33 L220.00,307.46 L221.00,307.59 L222.00,307.72 L223.00,307.85 L224.00,307.99 L225.00,308.12 L226.00,308.27 L227.00,308.43 L228.00,308.61 L229.00,308.80 L230.00,309.01 L231.00,309.23 L232.00,309.46 L233.00,309.70 L234.00,309.94 L235.00,310.17 L236.00,310.41 L237.00,310.65 L238.00,310.89 L239.00,311.13 L239.50,311.25" fill="none" stroke="#2496c8" stroke-width="1.7" stroke-linejoin="round"/><path d="M88.00,295.30 L89.00,295.07 L90.00,294.83 L91.00,294.60 L92.00,294.37 L93.00,294.13 L94.00,293.90 L95.00,293.67 L96.00,293.44 L97.00,293.22 L98.00,293.01 L99.00,292.82 L100.00,292.66 L101.00,292.51 L102.00,292.40 L103.00,292.30 L104.00,292.21 L105.00,292.13 L106.00,292.05 L107.00,291.98 L108.00,291.91 L109.00,291.84 L110.00,291.77 L111.00,291.71 L112.00,291.64 L113.00,291.58 L114.00,291.51 L115.00,291.45 L116.00,291.38 L117.00,291.32 L118.00,291.25 L119.00,291.19 L120.00,291.12 L121.00,291.06 L122.00,290.99 L123.00,290.93 L124.00,290.87 L125.00,290.81 L126.00,290.77 L127.00,290.75 L128.00,290.75 L129.00,290.77 L130.00,290.81 L131.00,290.87 L132.00,290.94 L133.00,291.02 L134.00,291.10 L135.00,291.18 L136.00,291.26 L137.00,291.34 L138.00,291.43 L139.00,291.51 L140.00,291.59 L141.00,291.67 L142.00,291.76 L143.00,291.84 L144.00,291.93 L145.00,292.03 L146.00,292.15 L147.00,292.30 L148.00,292.47 L149.00,292.69 L150.00,292.93 L151.00,293.20 L152.00,293.49 L153.00,293.79 L154.00,294.10 L155.00,294.40 L156.00,294.71 L157.00,295.02 L158.00,295.33 L159.00,295.63 L160.00,295.94 L161.00,296.25 L162.00,296.55 L163.00,296.86 L164.00,297.16 L165.00,297.46 L166.00,297.75 L167.00,298.02 L168.00,298.27 L169.00,298.50 L170.00,298.71 L171.00,298.91 L172.00,299.09 L173.00,299.27 L174.00,299.45 L175.00,299.62 L176.00,299.80 L177.00,299.97 L178.00,300.15 L179.00,300.32 L180.00,300.50 L181.00,300.68 L182.00,300.85 L183.00,301.03 L184.00,301.20 L185.00,301.38 L186.00,301.56 L187.00,301.74 L188.00,301.92 L189.00,302.11 L190.00,302.31 L191.00,302.50 L192.00,302.70 L193.00,302.90 L194.00,303.10 L195.00,303.30 L196.00,303.50 L197.00,303.70 L198.00,303.90 L199.00,304.10 L200.00,304.30 L201.00,304.50 L202.00,304.70 L203.00,304.90 L204.00,305.10 L205.00,305.29 L206.00,305.48 L207.00,305.66 L208.00,305.83 L209.00,305.99 L210.00,306.14 L211.00,306.28 L212.00,306.42 L213.00,306.55 L214.00,306.68 L215.00,306.81 L216.00,306.94 L217.00,307.07 L218.00,307.20 L219.00,307.33 L220.00,307.46 L221.00,307.59 L222.00,307.72 L223.00,307.85 L224.00,307.99 L225.00,308.12 L226.00,308.27 L227.00,308.43 L228.00,308.61 L229.00,308.80 L230.00,309.01 L231.00,309.23 L232.00,309.46 L233.00,309.70 L234.00,309.94 L235.00,310.17 L236.00,310.41 L237.00,310.65 L238.00,310.89 L239.00,311.13 L239.50,311.25" fill="none" stroke="#3bbbe8" stroke-width="0.8" stroke-linejoin="round"/><path d="M45.00,325.00 L46.00,324.24 L47.00,323.48 L48.00,322.72 L49.00,321.96 L50.00,321.21 L51.00,320.48 L52.00,319.77 L53.00,319.09 L54.00,318.44 L55.00,317.83 L56.00,317.25 L57.00,316.69 L58.00,316.14 L59.00,315.60 L60.00,315.05 L61.00,314.50 L62.00,313.93 L63.00,313.35 L64.00,312.74 L65.00,312.12 L66.00,311.46 L67.00,310.78 L68.00,310.06 L69.00,309.30 L70.00,308.50 L71.00,307.67 L72.00,306.82 L73.00,305.95 L74.00,305.09 L75.00,304.22 L76.00,303.37 L77.00,302.52 L78.00,301.70 L79.00,300.89 L80.00,300.12 L81.00,299.39 L82.00,298.71 L83.00,298.08 L84.00,297.48 L85.00,296.92 L86.00,296.37 L87.00,295.83 L88.00,295.30 L88.00,295.30 L89.00,294.91 L90.00,294.52 L91.00,294.13 L92.00,293.73 L93.00,293.34 L94.00,292.95 L95.00,292.56 L96.00,292.17 L97.00,291.78 L98.00,291.39 L99.00,291.00 L100.00,290.62 L101.00,290.23 L102.00,289.86 L103.00,289.48 L104.00,289.11 L105.00,288.74 L106.00,288.38 L107.00,288.03 L108.00,287.70 L109.00,287.38 L110.00,287.08 L111.00,286.79 L112.00,286.51 L113.00,286.23 L114.00,285.96 L115.00,285.68 L116.00,285.42 L117.00,285.15 L118.00,284.89 L119.00,284.63 L120.00,284.37 L121.00,284.11 L122.00,283.85 L123.00,283.60 L124.00,283.35 L125.00,283.11 L126.00,282.89 L127.00,282.69 L128.00,282.54 L129.00,282.42 L130.00,282.33 L131.00,282.27 L132.00,282.23 L133.00,282.20 L134.00,282.18 L135.00,282.16 L136.00,282.14 L137.00,282.12 L138.00,282.10 L139.00,282.08 L140.00,282.06 L141.00,282.04 L142.00,282.02 L143.00,282.00 L144.00,281.98 L145.00,281.97 L146.00,281.95 L147.00,281.95 L148.00,281.95 L149.00,281.96 L150.00,281.97 L151.00,282.00 L152.00,282.02 L153.00,282.05 L154.00,282.08 L155.00,282.11 L156.00,282.14 L157.00,282.17 L158.00,282.20 L159.00,282.23 L160.00,282.26 L161.00,282.29 L162.00,282.32 L163.00,282.35 L164.00,282.38 L165.00,282.41 L166.00,282.44 L167.00,282.48 L168.00,282.51 L169.00,282.55 L170.00,282.58 L171.00,282.62 L172.00,282.66 L173.00,282.70 L174.00,282.74 L175.00,282.78 L176.00,282.82 L177.00,282.86 L178.00,282.90 L179.00,282.94 L180.00,282.98 L181.00,283.02 L182.00,283.06 L183.00,283.10 L184.00,283.14 L185.00,283.19 L186.00,283.24 L187.00,283.30 L188.00,283.37 L189.00,283.45 L190.00,283.54 L191.00,283.64 L192.00,283.74 L193.00,283.85 L194.00,283.96 L195.00,284.07 L196.00,284.18 L197.00,284.29 L198.00,284.40 L199.00,284.51 L200.00,284.62 L201.00,284.73 L202.00,284.84 L203.00,284.95 L204.00,285.06 L205.00,285.16 L206.00,285.26 L207.00,285.35 L208.00,285.43 L209.00,285.50 L210.00,285.56 L211.00,285.61 L212.00,285.66 L213.00,285.70 L214.00,285.74 L215.00,285.78 L216.00,285.82 L217.00,285.86 L218.00,285.90 L219.00,285.94 L220.00,285.98 L221.00,286.02 L222.00,286.06 L223.00,286.10 L224.00,286.15 L225.00,286.20 L226.00,286.25 L227.00,286.33 L228.00,286.42 L229.00,286.52 L230.00,286.65 L231.00,286.79 L232.00,286.93 L233.00,287.08 L234.00,287.24 L235.00,287.40 L236.00,287.55 L237.00,287.71 L238.00,287.87 L239.00,288.02 L239.50,288.10" fill="none" stroke="#8d989f" stroke-opacity="0.45" stroke-width="2.4" stroke-linejoin="round"/><path d="M45.00,325.00 L46.00,324.24 L47.00,323.48 L48.00,322.72 L49.00,321.96 L50.00,321.21 L51.00,320.48 L52.00,319.77 L53.00,319.09 L54.00,318.44 L55.00,317.83 L56.00,317.25 L57.00,316.69 L58.00,316.14 L59.00,315.60 L60.00,315.05 L61.00,314.50 L62.00,313.93 L63.00,313.35 L64.00,312.74 L65.00,312.12 L66.00,311.46 L67.00,310.78 L68.00,310.06 L69.00,309.30 L70.00,308.50 L71.00,307.67 L72.00,306.82 L73.00,305.95 L74.00,305.09 L75.00,304.22 L76.00,303.37 L77.00,302.52 L78.00,301.70 L79.00,300.89 L80.00,300.12 L81.00,299.39 L82.00,298.71 L83.00,298.08 L84.00,297.48 L85.00,296.92 L86.00,296.37 L87.00,295.83 L88.00,295.30 L88.00,295.30 L89.00,294.91 L90.00,294.52 L91.00,294.13 L92.00,293.73 L93.00,293.34 L94.00,292.95 L95.00,292.56 L96.00,292.17 L97.00,291.78 L98.00,291.39 L99.00,291.00 L100.00,290.62 L101.00,290.23 L102.00,289.86 L103.00,289.48 L104.00,289.11 L105.00,288.74 L106.00,288.38 L107.00,288.03 L108.00,287.70 L109.00,287.38 L110.00,287.08 L111.00,286.79 L112.00,286.51 L113.00,286.23 L114.00,285.96 L115.00,285.68 L116.00,285.42 L117.00,285.15 L118.00,284.89 L119.00,284.63 L120.00,284.37 L121.00,284.11 L122.00,283.85 L123.00,283.60 L124.00,283.35 L125.00,283.11 L126.00,282.89 L127.00,282.69 L128.00,282.54 L129.00,282.42 L130.00,282.33 L131.00,282.27 L132.00,282.23 L133.00,282.20 L134.00,282.18 L135.00,282.16 L136.00,282.14 L137.00,282.12 L138.00,282.10 L139.00,282.08 L140.00,282.06 L141.00,282.04 L142.00,282.02 L143.00,282.00 L144.00,281.98 L145.00,281.97 L146.00,281.95 L147.00,281.95 L148.00,281.95 L149.00,281.96 L150.00,281.97 L151.00,282.00 L152.00,282.02 L153.00,282.05 L154.00,282.08 L155.00,282.11 L156.00,282.14 L157.00,282.17 L158.00,282.20 L159.00,282.23 L160.00,282.26 L161.00,282.29 L162.00,282.32 L163.00,282.35 L164.00,282.38 L165.00,282.41 L166.00,282.44 L167.00,282.48 L168.00,282.51 L169.00,282.55 L170.00,282.58 L171.00,282.62 L172.00,282.66 L173.00,282.70 L174.00,282.74 L175.00,282.78 L176.00,282.82 L177.00,282.86 L178.00,282.90 L179.00,282.94 L180.00,282.98 L181.00,283.02 L182.00,283.06 L183.00,283.10 L184.00,283.14 L185.00,283.19 L186.00,283.24 L187.00,283.30 L188.00,283.37 L189.00,283.45 L190.00,283.54 L191.00,283.64 L192.00,283.74 L193.00,283.85 L194.00,283.96 L195.00,284.07 L196.00,284.18 L197.00,284.29 L198.00,284.40 L199.00,284.51 L200.00,284.62 L201.00,284.73 L202.00,284.84 L203.00,284.95 L204.00,285.06 L205.00,285.16 L206.00,285.26 L207.00,285.35 L208.00,285.43 L209.00,285.50 L210.00,285.56 L211.00,285.61 L212.00,285.66 L213.00,285.70 L214.00,285.74 L215.00,285.78 L216.00,285.82 L217.00,285.86 L218.00,285.90 L219.00,285.94 L220.00,285.98 L221.00,286.02 L222.00,286.06 L223.00,286.10 L224.00,286.15 L225.00,286.20 L226.00,286.25 L227.00,286.33 L228.00,286.42 L229.00,286.52 L230.00,286.65 L231.00,286.79 L232.00,286.93 L233.00,287.08 L234.00,287.24 L235.00,287.40 L236.00,287.55 L237.00,287.71 L238.00,287.87 L239.00,288.02 L239.50,288.10" fill="none" stroke="#4d5961" stroke-width="1.3" stroke-linejoin="round"/><line x1="45.5" y1="266.0" x2="244.5" y2="266.0" stroke="#505356" stroke-width="1.2" stroke-dasharray="2.3,1.2"/><line x1="45.5" y1="294.9" x2="244.5" y2="294.9" stroke="#505356" stroke-width="1.2" stroke-dasharray="2.3,1.2"/><line x1="45" y1="263" x2="45" y2="338.6" stroke="#8f9296" stroke-width="0.9"/><line x1="45" y1="338.3" x2="243.3" y2="338.3" stroke="#8f9296" stroke-width="0.9"/><text x="35.2" y="268" class="tk" textLength="8.1" lengthAdjust="spacingAndGlyphs">2.00</text><text x="35.2" y="282" class="tk" textLength="8.1" lengthAdjust="spacingAndGlyphs">1.75</text><text x="35.2" y="296" class="tk" textLength="8.1" lengthAdjust="spacingAndGlyphs">1.50</text><text x="35.2" y="311" class="tk" textLength="8.1" lengthAdjust="spacingAndGlyphs">1.25</text><text x="35.2" y="325" class="tk" textLength="8.1" lengthAdjust="spacingAndGlyphs">1.00</text><text x="35.2" y="340" class="tk" textLength="8.1" lengthAdjust="spacingAndGlyphs">0.75</text><line x1="44.50" y1="338.3" x2="44.50" y2="340" stroke="#a5a8ab" stroke-width="0.5"/><text x="49.60" y="346" class="tk" text-anchor="middle">2010</text><line x1="66.24" y1="338.3" x2="66.24" y2="340" stroke="#a5a8ab" stroke-width="0.5"/><text x="66.24" y="346" class="tk" text-anchor="middle">2020</text><line x1="87.99" y1="338.3" x2="87.99" y2="340" stroke="#a5a8ab" stroke-width="0.5"/><text x="87.99" y="346" class="tk" text-anchor="middle">2030</text><line x1="109.73" y1="338.3" x2="109.73" y2="340" stroke="#a5a8ab" stroke-width="0.5"/><text x="109.73" y="346" class="tk" text-anchor="middle">2040</text><line x1="131.48" y1="338.3" x2="131.48" y2="340" stroke="#a5a8ab" stroke-width="0.5"/><text x="131.48" y="346" class="tk" text-anchor="middle">2050</text><line x1="153.22" y1="338.3" x2="153.22" y2="340" stroke="#a5a8ab" stroke-width="0.5"/><text x="153.22" y="346" class="tk" text-anchor="middle">2060</text><line x1="174.97" y1="338.3" x2="174.97" y2="340" stroke="#a5a8ab" stroke-width="0.5"/><text x="174.97" y="346" class="tk" text-anchor="middle">2070</text><line x1="196.71" y1="338.3" x2="196.71" y2="340" stroke="#a5a8ab" stroke-width="0.5"/><text x="196.71" y="346" class="tk" text-anchor="middle">2080</text><line x1="218.46" y1="338.3" x2="218.46" y2="340" stroke="#a5a8ab" stroke-width="0.5"/><text x="218.46" y="346" class="tk" text-anchor="middle">2090</text><line x1="240.20" y1="338.3" x2="240.20" y2="340" stroke="#a5a8ab" stroke-width="0.5"/><text x="240.20" y="346" class="tk" text-anchor="middle">2100</text><text x="36.3" y="258.5" class="ttl" textLength="137.5" lengthAdjust="spacingAndGlyphs"><tspan class="bd">Global mean temperature increase above pre-industrial levels</tspan> (°C)</text><path d="M245.5,265.75 L248.3,262.35 L273,262.35 L273,269.15 L248.3,269.15 Z" fill="#d23c3c"/><text x="250" y="268" class="tag" textLength="20" lengthAdjust="spacingAndGlyphs">+2.0°C</text><path d="M245.5,295.20 L248.3,291.80 L273,291.80 L273,298.60 L248.3,298.60 Z" fill="#e9a43a"/><text x="250" y="297" class="tag" textLength="20" lengthAdjust="spacingAndGlyphs">+1.5°C</text><line x1="247.4" y1="273.25" x2="252.4" y2="273.25" stroke="#4d5961" stroke-width="1.1"/><text x="254.5" y="275" class="lg2" textLength="24.75" lengthAdjust="spacingAndGlyphs">2.0°C median</text><rect x="247.4" y="276.75" width="5" height="11.85" fill="#dce0e3"/><text x="254.5" y="280" class="lg2" textLength="24.75" lengthAdjust="spacingAndGlyphs">2.0°C 20<tspan class="sup" dy="-1">th</tspan><tspan dy="1">–80</tspan><tspan class="sup" dy="-1">th</tspan></text><text x="254.5" y="285" class="lg2" textLength="17.90" lengthAdjust="spacingAndGlyphs">percentile</text><text x="254.5" y="289" class="lg2" textLength="11.00" lengthAdjust="spacingAndGlyphs">range</text><line x1="247.4" y1="303.4" x2="252.4" y2="303.4" stroke="#3bbbe8" stroke-width="1.1"/><text x="254.5" y="305" class="lg2" textLength="24.10" lengthAdjust="spacingAndGlyphs">1.5°C median</text><rect x="247.4" y="308" width="5" height="11.25" fill="#cbe9f6"/><text x="254.5" y="311" class="lg2" textLength="24.75" lengthAdjust="spacingAndGlyphs">1.5°C 20<tspan class="sup" dy="-1">th</tspan><tspan dy="1">–80</tspan><tspan class="sup" dy="-1">th</tspan></text><text x="254.5" y="316" class="lg2" textLength="17.90" lengthAdjust="spacingAndGlyphs">percentile</text><text x="254.5" y="320" class="lg2" textLength="11.00" lengthAdjust="spacingAndGlyphs">range</text><defs><linearGradient id="tg" x1="0" y1="0" x2="0" y2="1"><stop offset="0" stop-color="#a2383e"/><stop offset="0.36" stop-color="#c4403a"/><stop offset="0.51" stop-color="#d4692b"/><stop offset="0.67" stop-color="#e39a2a"/><stop offset="0.82" stop-color="#f0c630"/><stop offset="0.89" stop-color="#efd466"/><stop offset="0.97" stop-color="#c9cfd2"/><stop offset="1" stop-color="#afb9c1"/></linearGradient></defs><path d="M282.9,262.2 A3.95,3.95 0 0 1 290.8,262.2 L290.8,334.8 A6.2,6.2 0 1 1 282.9,334.8 Z" fill="#fff" stroke="#d3d7db" stroke-width="0.8"/><path d="M284.6,263 Q284.6,262.3 285.3,262.3 L288.4,262.3 Q289.1,262.3 289.1,263 L289.1,336 L284.6,336 Z" fill="url(#tg)"/><circle cx="286.85" cy="339.8" r="4.1" fill="#afb9c1"/><text x="33.75" y="21" class="hdr" textLength="90.00" lengthAdjust="spacing">Emissions Gap Report 2023: Broken Record</text><text x="34.40" y="43" class="h" textLength="10.00" lengthAdjust="spacingAndGlyphs">4.2.4</text><text x="49.40" y="43" class="h" textLength="106.30" lengthAdjust="spacing">Mitigation scenarios that keep warming below</text><text x="49.40" y="49" class="h" textLength="65.40" lengthAdjust="spacing">specified temperature limits</text><text x="34.00" y="62" class="b" textLength="122.80" lengthAdjust="spacing">This category of scenarios reflects least-cost mitigation</text><text x="34.00" y="69" class="b" textLength="122.80" lengthAdjust="spacing">pathways starting in 2020 for different global warming</text><text x="34.00" y="75" class="b" textLength="122.80" lengthAdjust="spacing">outcomes relative to pre-industrial levels over the course</text><text x="34.00" y="81" class="b" textLength="122.80" lengthAdjust="spacing">of this century. Consistent with previous Emissions Gap</text><text x="34.00" y="88" class="b" textLength="122.80" lengthAdjust="spacing">Reports, three scenarios have been chosen to represent</text><text x="34.00" y="94" class="b" textLength="122.80" lengthAdjust="spacing">warming limits relevant in the context of the Paris</text><text x="34.00" y="100" class="b" textLength="122.80" lengthAdjust="spacing">Agreement’s long-term temperature goal, 2°C, 1.8°C and</text><text x="34.00" y="107" class="b" textLength="122.80" lengthAdjust="spacing">1.5°C, noting that these limits are not intended to offer a</text><text x="34.00" y="113" class="b" textLength="122.80" lengthAdjust="spacing">specific interpretation of the goal. The GHG emissions of</text><text x="34.00" y="120" class="b" textLength="122.80" lengthAdjust="spacing">the scenarios were drawn from the IPCC WGIII AR6 scenario</text><text x="34.00" y="126" class="b" textLength="122.80" lengthAdjust="spacing">database (Byers et al. 2022; Riahi et al. 2022) and grouped</text><text x="34.00" y="132" class="b" textLength="122.80" lengthAdjust="spacing">according to characteristics as described in table 4.1. Their</text><text x="163.20" y="43" class="b" textLength="123.40" lengthAdjust="spacing">corresponding temperature projections are based on IPCC</text><text x="163.20" y="50" class="b" textLength="123.40" lengthAdjust="spacing">WGI AR6 (Nicholls et al. 2021; Kikstra et al. 2022; Smith 2023)</text><text x="163.20" y="56" class="b" textLength="123.40" lengthAdjust="spacing">and are consistent with recent updates to the remaining</text><text x="163.20" y="62" class="b" textLength="123.40" lengthAdjust="spacing">carbon budget (Forster et al. 2023). Table 4.2 provides</text><text x="163.20" y="69" class="b" textLength="123.40" lengthAdjust="spacing">an overview of the scenarios’ emissions and temperature</text><text x="163.20" y="75" class="b" textLength="123.40" lengthAdjust="spacing">characteristics. The no or limited overshoot pathways in the</text><text x="163.20" y="81" class="b" textLength="123.40" lengthAdjust="spacing">1.5°C category have at least a 33 per cent chance of keeping</text><text x="163.20" y="88" class="b" textLength="123.40" lengthAdjust="spacing">warming below 1.5°C over the course of the entire century,</text><text x="163.20" y="94" class="b" textLength="123.40" lengthAdjust="spacing">and at least a 50 per cent chance of doing so by 2100.¹ In</text><text x="163.20" y="100" class="b" textLength="123.40" lengthAdjust="spacing">many cases, median warming under these scenarios will</text><text x="163.20" y="107" class="b" textLength="123.40" lengthAdjust="spacing">temporarily reach and exceed 1.5°C of global warming as</text><text x="163.20" y="113" class="b" textLength="123.40" lengthAdjust="spacing">part of projected temperature developments (figure 4.1). As</text><text x="163.20" y="120" class="b" textLength="123.40" lengthAdjust="spacing">figure 4.2 shows, pathways in the 1.5°C category achieve net-</text><text x="163.20" y="126" class="b" textLength="123.40" lengthAdjust="spacing">negative GHG emissions in the second half of the century</text><text x="163.20" y="132" class="b" textLength="120.30" lengthAdjust="spacing">through the use of carbon dioxide removal (see chapter 7).</text><text x="34.00" y="146" class="cap" textLength="234.50" lengthAdjust="spacing"><tspan class="bl">Figure 4.1</tspan> Global GHG emissions and corresponding median temperature projections of 1.5°C and 2°C scenarios</text><text x="34.00" y="361" class="note" textLength="252.00" lengthAdjust="spacing"><tspan class="bl">Notes:</tspan> The ranges show the twentieth to eightieth percentile range across each category’s scenarios. GHG emissions are aggregated using</text><text x="34.00" y="366" class="note" textLength="190.40" lengthAdjust="spacing">GWP global warming potentials over 100 years. The thick lines in each range represent the category median.</text><line x1="34" y1="385" x2="52.5" y2="385" stroke="#4a80c6" stroke-width="0.6"/><text x="34.50" y="397" class="fn"><tspan class="bl">1</tspan></text><text x="42.50" y="397" class="fn" textLength="243.80" lengthAdjust="spacing">The global warming characteristics for the 1.5°C pathways are chosen to be consistent with category C1a from the IPCC AR6 Working Group III</text><text x="42.50" y="402" class="fn" textLength="243.80" lengthAdjust="spacing">assessment. The 2022 edition of the Emissions Gap Report also applied a 33 per cent of limiting warming to 1.5°C over the entire century, but a</text><text x="42.50" y="407" class="fn" textLength="243.80" lengthAdjust="spacing">66 per cent chance of limiting warming below 1.5°C in 2100. Until end-century, this change results in so little difference in projected emission levels,</text><text x="42.50" y="412" class="fn" textLength="243.80" lengthAdjust="spacing">as these are constrained by the minimum 33 per cent chance limit. Achieving a higher chance in 2100 relies on realizing net-negative emissions in the</text><text x="42.50" y="417" class="fn" textLength="139.50" lengthAdjust="spacing">second half of the century through the use of carbon dioxide removal (see chapter 7).</text><text x="15.00" y="434" class="pn" textLength="10.30" lengthAdjust="spacingAndGlyphs">26</text></svg>
</body></html>
